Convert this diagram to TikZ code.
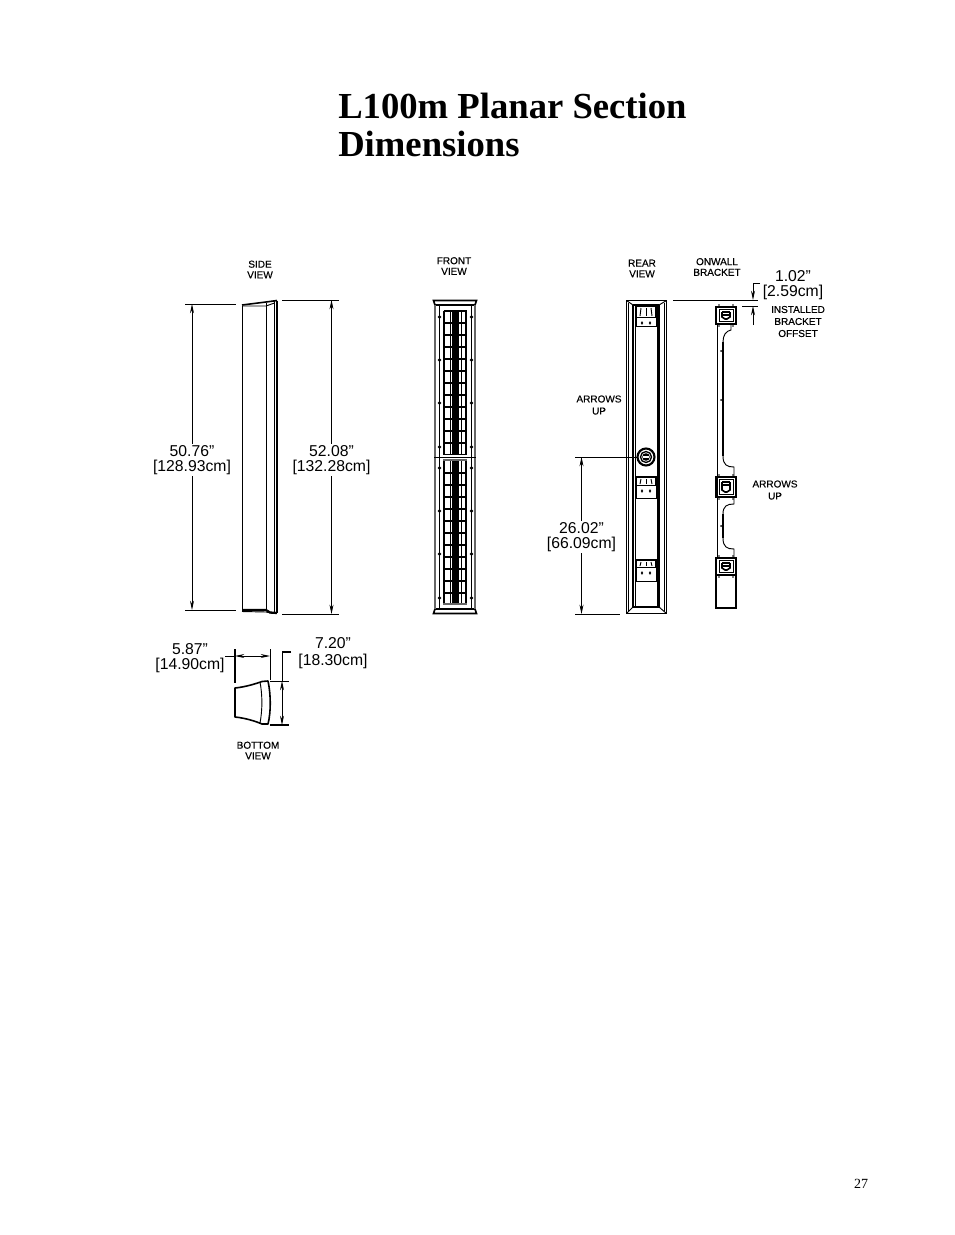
\documentclass[tikz,border=0pt]{standalone}
\usepackage{fontspec}
\setmainfont{Liberation Sans}
\newfontfamily\titlefont{Liberation Serif}
\newfontfamily\numfont{Liberation Serif}
\newfontfamily\lblfont[FakeBold=0.35]{Liberation Sans}
\usetikzlibrary{arrows.meta}
\tikzset{
  px/.style={x=0.75pt,y=-0.75pt},
  ln/.style={draw=black,line width=0.7pt},
  thick1/.style={draw=black,line width=1.2pt},
  heavy/.style={draw=black,line width=1.7pt},
  grayln/.style={draw=black!60,line width=1.5pt},
  dimarr/.style={draw=black,line width=0.6pt,-{Stealth[length=7pt,width=3pt]}},
  dimtext/.style={font=\fontsize{11.8}{11.2}\selectfont,align=center,inner sep=1pt,fill=white},
  smalltext/.style={font=\lblfont\fontsize{7.5}{8}\selectfont,align=center,inner sep=0pt},
  wrap/.style={font=\titlefont\bfseries\fontsize{27.5}{28.5}\selectfont,align=left,anchor=north west,inner sep=0pt}
}
\begin{document}
\begin{tikzpicture}[px]
\useasboundingbox (0,0) rectangle (954,1235);
% Title and folio
\node[wrap] (title) at (338,92.5) {L100m Planar Section\\Dimensions};
\node[font=\numfont\fontsize{10.5}{12}\selectfont,inner sep=0pt] (folio) at (861,1184) {27};
% Labels
\node[smalltext] (sidelab) at (260,269.5) {SIDE\\VIEW};
\node[smalltext] (frontlab) at (454,266) {FRONT\\VIEW};
\node[smalltext] (rearlab) at (642,268.5) {REAR\\VIEW};
\node[smalltext] (wallab) at (717,267) {ONWALL\\BRACKET};
\node[smalltext] (botlab) at (258,750.5) {BOTTOM\\VIEW};
\node[smalltext,font=\lblfont\fontsize{7.5}{9}\selectfont] (instlab) at (798,321.5) {INSTALLED\\BRACKET\\OFFSET};
\node[smalltext,font=\lblfont\fontsize{7.5}{9}\selectfont] (arrL) at (599,405) {ARROWS\\UP};
\node[smalltext,font=\lblfont\fontsize{7.5}{9}\selectfont] (arrR) at (775,490) {ARROWS\\UP};
% Side view
\draw[ln] (242,306) -- (242,609);
\draw[ln] (266,303) -- (266,609);
\draw[ln] (274.5,301) -- (274.5,612);
\draw[thick1] (277,301) -- (277,613);
\draw[ln] (242,306) -- (266,306) -- (274.5,303);
\draw[thick1] (242,305) -- (266,302) -- (277,300.5);
\draw[heavy] (242,610) -- (266,610) -- (270,612.5) -- (277,613);
\draw[ln] (242,611.5) -- (266,612) -- (274,613.5);
% Side dimensions
\node[dimtext] (d5076) at (192,460) {50.76"\\{[}128.93cm{]}};
\node[dimtext] (d5208) at (331.5,460) {52.08"\\{[}132.28cm{]}};
\coordinate (sA1) at (185,304); \coordinate (sA2) at (236,304);
\coordinate (sB1) at (185,610); \coordinate (sB2) at (236,610);
\coordinate (sC1) at (282,300); \coordinate (sC2) at (339,300);
\coordinate (sD1) at (282,614); \coordinate (sD2) at (339,614);
\draw[ln] (sA1) -- (sA2); \draw[ln] (sB1) -- (sB2);
\draw[ln] (sC1) -- (sC2); \draw[ln] (sD1) -- (sD2);
\draw[dimarr] (d5076) -- (d5076 |- sA1);
\draw[dimarr] (d5076) -- (d5076 |- sB1);
\draw[dimarr] (d5208) -- (d5208 |- sC1);
\draw[dimarr] (d5208) -- (d5208 |- sD1);
% Bottom view
\draw[thick1,line join=round] (235,688) .. controls (245,687) and (255,684) .. (262,681.5) -- (268,681)
  .. controls (271,695) and (271,712) .. (268,724) -- (262,724) .. controls (255,721) and (245,718) .. (235,717) -- cycle;
\draw[ln] (260,682) .. controls (262.5,695) and (262.5,710) .. (260,723);
\node[dimtext,fill=none] (d587) at (190,658) {5.87"\\{[}14.90cm{]}};
\node[dimtext,fill=none,font=\fontsize{11.8}{12.6}\selectfont] (d720) at (333,653) {7.20"\\{[}18.30cm{]}};
\coordinate (bL1) at (235,649); \coordinate (bL2) at (235,683);
\coordinate (bR1) at (270,649); \coordinate (bR2) at (270,680);
\draw[heavy] (bL1) -- (bL2);
\draw[ln] (bR1) -- (bR2);
\coordinate (bM) at (225,656);
\draw[ln] (bM) -- (bL1 |- bM);
\draw[dimarr] (252,656) -- (bL1 |- bM);
\draw[dimarr] (252,656) -- (bR1 |- bM);
\coordinate (bT1) at (291,652); \coordinate (bT2) at (282,652);
\coordinate (bU1) at (270,681); \coordinate (bU2) at (289,681);
\coordinate (bV1) at (270,725); \coordinate (bV2) at (289,725);
\draw[heavy] (bT1) -- (bT2);
\draw[ln] (bT2) -- (bT2 |- bU1);
\draw[ln] (bU1) -- (bU2);
\draw[heavy] (bV1) -- (bV2);
\draw[dimarr] (282,703) -- (bT2 |- bU1);
\draw[dimarr] (282,703) -- (bT2 |- bV1);
% Front view
\draw[thick1] (433.5,300.5) -- (476.5,300.5) -- (475,305) -- (435,305) -- cycle;
\draw[thick1] (433.5,613.5) -- (476.5,613.5) -- (475,609) -- (435,609) -- cycle;
\draw[grayln] (435,305) -- (435,609);
\draw[grayln] (475,305) -- (475,609);
\draw[thick1] (439.5,305) -- (439.5,609);
\draw[thick1] (471.5,305) -- (471.5,609);
\draw[thick1] (444,311) -- (444,603);
\draw[thick1] (466,311) -- (466,603);
\draw[ln] (450.5,311) -- (450.5,603);
\draw[ln] (461,311) -- (461,603);
\fill[black] (452,311) rectangle (459,603);
\draw[thick1] (443.5,311) -- (466.5,311);
\foreach \yy in {323,335,347,359,371,383,395,407,419,431,443,473,485,497,509,521,533,545,557,569,581,593} {
  \draw[thick1] (444,\yy) -- (452,\yy);
  \draw[thick1] (459,\yy) -- (467,\yy);
}
\fill[white] (443,455) rectangle (467,460);
\draw[ln] (434,457) -- (476,457);
\draw[ln] (443,454.5) -- (467,454.5);
\draw[grayln] (443,460) -- (467,460);
\fill[white] (443,603.5) rectangle (467,608);
\draw[grayln] (443,603.5) -- (467,603.5);
\foreach \yy in {317,360,403,447,468,511,554,598} {
  \fill (439.5,\yy) circle (1.8);
  \fill (471.5,\yy) circle (1.8);
}
% Rear view
\draw[thick1] (626.5,300.5) rectangle (666.5,613.5);
\draw[ln] (628.5,303) -- (628.5,611);
\draw[ln] (664.5,303) -- (664.5,611);
\draw[heavy] (633,305) -- (633,607);
\draw[heavy] (659,305) -- (659,607);
\draw[ln] (635.5,305) -- (635.5,607);
\draw[ln] (657,305) -- (657,607);
\draw[thick1] (633,305) -- (659,305);
\draw[ln] (626.5,300.5) -- (633,305);
\draw[ln] (666.5,300.5) -- (659,305);
\draw[heavy] (633,607) -- (659,607);
\draw[ln] (626.5,613.5) -- (633,607);
\draw[ln] (666.5,613.5) -- (659,607);
\foreach \ya/\yb/\yc in {306/317/326,477/485/498,560/567/581} {
  \draw[thick1] (636,\yb) -- (636,\ya) -- (656,\ya) -- (656,\yb);
  \draw[ln] (636,\yb) rectangle (656,\yc);
  \fill (642,\yb+6) ellipse (1.2 and 1.8); \fill (650,\yb+6) ellipse (1.2 and 1.8);
  \draw[ln] (640,\yb-1) -- (641,\ya+2); \draw[ln] (652,\yb-1) -- (651,\ya+2);
  \draw[ln] (646,\yb-1) -- (646,\ya+2);
}
\draw[line width=1.6pt] (646,457) circle (8.5);
\draw[line width=1pt] (646,457) circle (5.5);
\fill (646,457) circle (3.8);
\fill[white] (643,456) rectangle (649,457.5);
% Rear dimension
\node[dimtext] (d2602) at (581.5,537) {26.02"\\{[}66.09cm{]}};
\coordinate (rA1) at (575,457); \coordinate (rA2) at (637,457);
\coordinate (rB1) at (575,614); \coordinate (rB2) at (620,614);
\draw[ln] (rA1) -- (rA2); \draw[ln] (rB1) -- (rB2);
\draw[dimarr] (d2602) -- (d2602 |- rA1);
\draw[dimarr] (d2602) -- (d2602 |- rB1);
% Bracket
\draw[ln] (717,324) -- (717,558);
\draw[ln] (731,324) -- (731,330) .. controls (726,331) and (723,335) .. (723,342);
\draw[heavy] (723,342) -- (723,456);
\draw[ln] (723,456) .. controls (723,465) and (727,467) .. (734,467) -- (734,477);
\draw[ln] (734,497) -- (734,504) .. controls (727,504) and (723,506) .. (723,514);
\draw[heavy] (723,514) -- (723,538);
\draw[ln] (723,538) .. controls (723,547) and (727,549) .. (734,549) -- (734,558);
\foreach \ya/\yc in {307/324,477/497,558/575} {
  \draw[heavy] (716,\ya) rectangle (736,\yc);
  \draw[ln] (719,\ya+2.5) rectangle (733,\yc-3);
  \draw[heavy] (722,\ya+5) -- (730,\ya+5);
  \draw[thick1] (722,\ya+8) -- (730,\ya+8);
  \draw[thick1] (722,\ya+5) -- (722,\yc-7) -- (725,\yc-5) -- (727,\yc-5) -- (730,\yc-7) -- (730,\ya+5);
  \fill (719,\ya-2) circle (.9); \fill (733,\ya-2) circle (.9);
  \fill (719,\yc+2) circle (.9); \fill (733,\yc+2) circle (.9);
}
\draw[thick1] (716,575) rectangle (736,608);
\foreach \yy in {351,400,526} { \fill (721,\yy) circle (1); }
% Installed bracket offset dimension
\node[dimtext,fill=none] (d102) at (793,285) {1.02"\\{[}2.59cm{]}};
\coordinate (oA1) at (673,300); \coordinate (oA2) at (758,300);
\coordinate (oB1) at (742,306); \coordinate (oB2) at (758,306);
\coordinate (oS) at (760,283); \coordinate (oT) at (753,283); \coordinate (oE) at (753,325);
\draw[ln] (oA1) -- (oA2); \draw[ln] (oB1) -- (oB2);
\draw[ln] (oS) -- (oT);
\draw[dimarr] (oT) -- (oT |- oA1);
\draw[dimarr] (oE) -- (oT |- oB1);
\end{tikzpicture}
\end{document}
